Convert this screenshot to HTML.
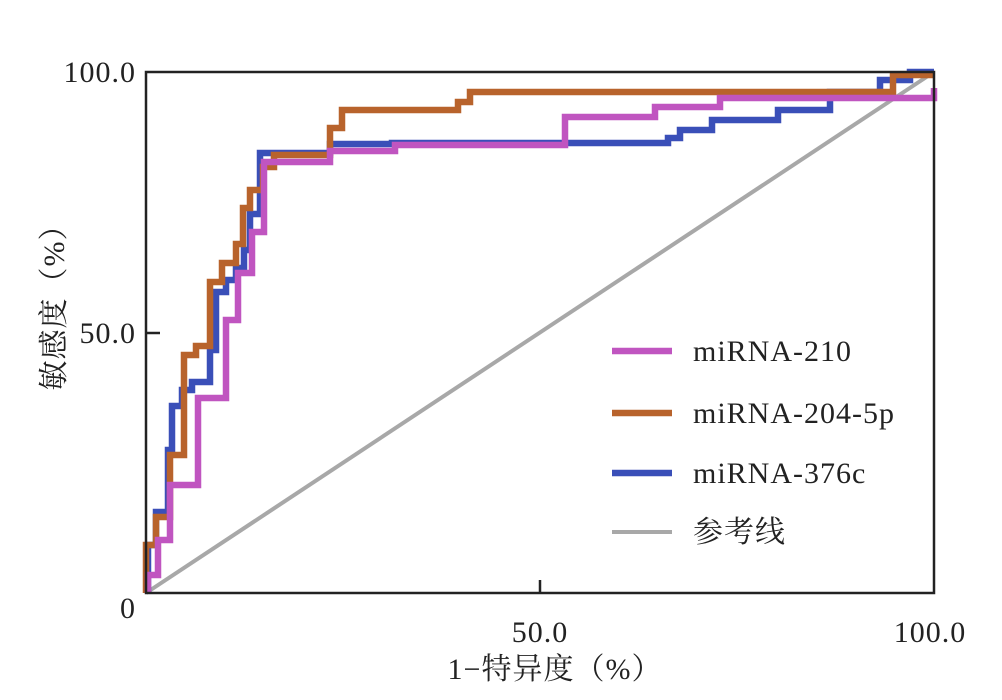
<!DOCTYPE html>
<html><head><meta charset="utf-8"><style>body{margin:0;background:#fff}svg{display:block}text{font-family:"Liberation Serif","Noto Serif CJK SC",serif;fill:#222}</style></head><body>
<svg width="1002" height="700" viewBox="0 0 1002 700">
<g fill="none" stroke-width="6.5" stroke-linejoin="miter">
<line x1="146" y1="593" x2="934" y2="72" stroke="#a8a8a8" stroke-width="4"/>
<path stroke="#3a4fb8" d="M148,593 V545 H156 V512 H168 V450 H172 V406 H182 V390 H192 V382 H210 V350 H216 V292 H226 V280 H236 V268 H244 V250 H250 V214 H260 V153 H330 V144 H392 V143 H668 V138 H680 V130 H712 V120 H778 V110 H830 V92 H880 V80 H910 V72 H934"/>
<path stroke="#b8632c" d="M146,593 V545 H156 V517 H170 V455 H184 V355 H196 V346 H210 V282 H222 V263 H236 V244 H243 V208 H250 V190 H263 V167 H274 V155 H330 V128 H342 V110 H458 V102 H470 V92 H893 V75 H934"/>
<path stroke="#c055c0" d="M148,593 V575 H158 V540 H170 V485 H198 V398 H226 V320 H238 V273 H252 V232 H264 V162 H330 V151 H395 V145 H565 V117 H655 V107 H720 V98 H934 V88"/>
</g>
<rect x="146" y="72" width="788" height="521" fill="none" stroke="#222" stroke-width="2.5"/>
<line x1="146" y1="333" x2="160" y2="333" stroke="#222" stroke-width="2.5"/>
<line x1="540" y1="593" x2="540" y2="580" stroke="#222" stroke-width="2.5"/>
<g font-size="30" letter-spacing="1">
<text x="136" y="82" text-anchor="end">100.0</text>
<text x="136" y="343" text-anchor="end">50.0</text>
<text x="136" y="618" text-anchor="end">0</text>
<text x="540" y="642" text-anchor="middle">50.0</text>
<text x="930" y="642" text-anchor="middle">100.0</text>
<text x="555" y="679" text-anchor="middle">1−特异度（%）</text>
<text transform="translate(64,300) rotate(-90)" text-anchor="middle">敏感度（%）</text>
<text x="693" y="361">miRNA-210</text>
<text x="693" y="423">miRNA-204-5p</text>
<text x="693" y="483">miRNA-376c</text>
<text x="693" y="542">参考线</text>
</g>
<g stroke-width="6.5">
<line x1="612" y1="351" x2="672" y2="351" stroke="#c055c0"/>
<line x1="612" y1="413" x2="672" y2="413" stroke="#b8632c"/>
<line x1="612" y1="473" x2="672" y2="473" stroke="#3a4fb8"/>
<line x1="612" y1="532" x2="672" y2="532" stroke="#a8a8a8" stroke-width="4"/>
</g>
</svg>
</body></html>
